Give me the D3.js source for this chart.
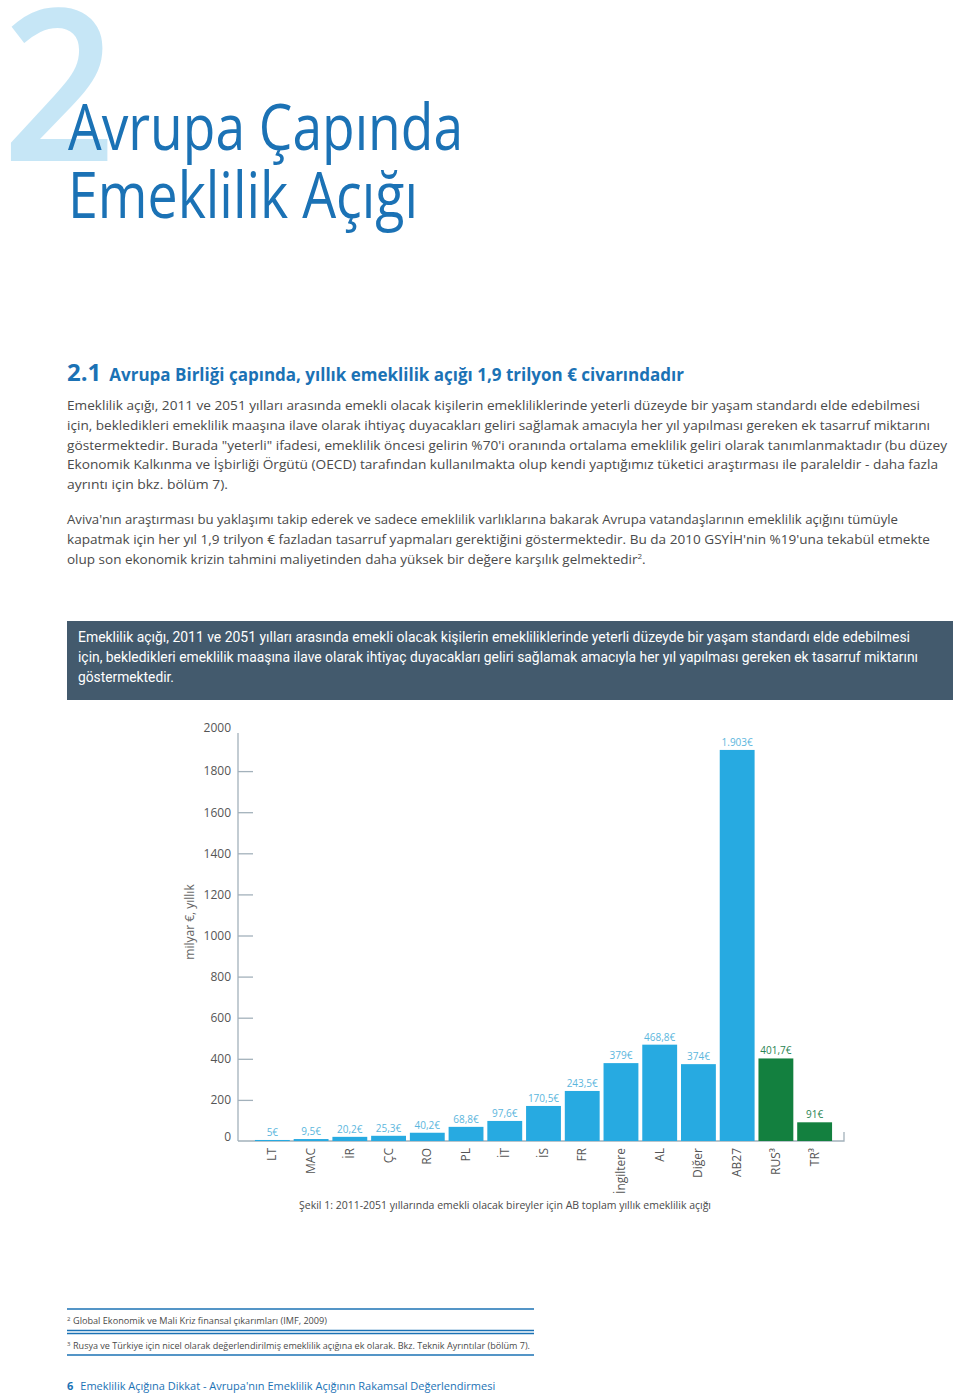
<!DOCTYPE html>
<html><head><meta charset="utf-8">
<script src="https://cdn.jsdelivr.net/npm/d3@7"></script>
<style>
html,body{margin:0;padding:0;background:#fff;}
svg{display:block;}
</style></head>
<body>
<svg id="page" width="960" height="1394"></svg>
<script>
// ---------- DATA ----------
const categories = ["LT","MAC","İR","ÇC","RO","PL","İT","İS","FR","İngiltere","AL","Diğer","AB27","RUS³","TR³"];
const values = [5, 9.5, 20.2, 25.3, 40.2, 68.8, 97.6, 170.5, 243.5, 379, 468.8, 374, 1903, 401.7, 91];
const valueLabels = ["5€","9,5€","20,2€","25,3€","40,2€","68,8€","97,6€","170,5€","243,5€","379€","468,8€","374€","1.903€","401,7€","91€"];
const groups = ["ab","ab","ab","ab","ab","ab","ab","ab","ab","ab","ab","ab","ab","other","other"];
const yTicks = [0,200,400,600,800,1000,1200,1400,1600,1800,2000];
const yAxisTitle = "milyar €, yıllık";
const caption = "Şekil 1: 2011-2051 yıllarında emekli olacak bireyler için AB toplam yıllık emeklilik açığı";

const para1 = [
 "Emeklilik açığı, 2011 ve 2051 yılları arasında emekli olacak kişilerin emekliliklerinde yeterli düzeyde bir yaşam standardı elde edebilmesi",
 "için, bekledikleri emeklilik maaşına ilave olarak ihtiyaç duyacakları geliri sağlamak amacıyla her yıl yapılması gereken ek tasarruf miktarını",
 "göstermektedir. Burada \"yeterli\" ifadesi, emeklilik öncesi gelirin %70'i oranında ortalama emeklilik geliri olarak tanımlanmaktadır (bu düzey",
 "Ekonomik Kalkınma ve İşbirliği Örgütü (OECD) tarafından kullanılmakta olup kendi yaptığımız tüketici araştırması ile paraleldir - daha fazla",
 "ayrıntı için bkz. bölüm 7)."
];
const para1W = [853, 863, 880, 871, 161];
const para2 = [
 "Aviva'nın araştırması bu yaklaşımı takip ederek ve sadece emeklilik varlıklarına bakarak Avrupa vatandaşlarının emeklilik açığını tümüyle",
 "kapatmak için her yıl 1,9 trilyon € fazladan tasarruf yapmaları gerektiğini göstermektedir. Bu da 2010 GSYİH'nin %19'una tekabül etmekte",
 "olup son ekonomik krizin tahmini maliyetinden daha yüksek bir değere karşılık gelmektedir"
];
const para2W = [831, 863, 561];
const boxLines = [
 "Emeklilik açığı, 2011 ve 2051 yılları arasında emekli olacak kişilerin emekliliklerinde yeterli düzeyde bir yaşam standardı elde edebilmesi",
 "için, bekledikleri emeklilik maaşına ilave olarak ihtiyaç duyacakları geliri sağlamak amacıyla her yıl yapılması gereken ek tasarruf miktarını",
 "göstermektedir."
];
const boxW = [832, 840, 96];

const svg = d3.select("#page");
const BLUE = "#1b72b5";
const TEXT = "#4a4a4a";

// ---------- HEADER ----------
svg.append("text").attr("x", 2).attr("y", 161)
  .attr("font-family","Open Sans, sans-serif").attr("font-weight",600).attr("font-size", 212).attr("fill","#c6e6f6")
  .attr("textLength",114).attr("lengthAdjust","spacingAndGlyphs")
  .text("2");
svg.append("text").attr("x", 68).attr("y", 150)
  .attr("font-family","Open Sans, sans-serif").attr("font-weight",400).attr("font-size", 64).attr("fill", BLUE)
  .attr("textLength",395).attr("lengthAdjust","spacingAndGlyphs")
  .text("Avrupa Çapında");
svg.append("text").attr("x", 68).attr("y", 218)
  .attr("font-family","Open Sans, sans-serif").attr("font-weight",400).attr("font-size", 64).attr("fill", BLUE)
  .attr("textLength",350).attr("lengthAdjust","spacingAndGlyphs")
  .text("Emeklilik Açığı");

// section heading
const h = svg.append("text").attr("x", 67).attr("y", 381)
  .attr("font-family","Open Sans, sans-serif").attr("font-weight",700).attr("fill", BLUE);
h.append("tspan").attr("font-size",24).text("2.1");
h.append("tspan").attr("font-size",17).attr("dx",8).text("Avrupa Birliği çapında, yıllık emeklilik açığı 1,9 trilyon € civarındadır");

function lines(arr, widths, x, y0, lh, opts) {
  arr.forEach((t, i) => {
    const el = svg.append("text").attr("x", x).attr("y", y0 + i * lh)
      .attr("font-family", opts.family).attr("font-size", opts.size).attr("fill", opts.fill)
      .attr("font-weight", opts.weight || 400)
      .attr("textLength", widths[i]).attr("lengthAdjust","spacingAndGlyphs")
      .text(t);
    if (opts.sup && i === arr.length - 1) {
      el.attr("textLength", null);
      el.append("tspan").attr("font-size", 8).attr("dy", -5).text("2");
      el.append("tspan").attr("dy", 5).text(".");
    }
  });
}
const bodyFont = {family:"Open Sans, sans-serif", size:13.5, fill:TEXT};
lines(para1, para1W, 67, 410, 19.8, bodyFont);
lines(para2, para2W, 67, 524, 20, Object.assign({sup:true}, bodyFont));

// blue box
svg.append("rect").attr("x",67).attr("y",621).attr("width",886).attr("height",79).attr("fill","#435a6d");
lines(boxLines, boxW, 78, 642, 20, {family:"Liberation Sans Narrow, Roboto, sans-serif", size:14.5, fill:"#ffffff"});

// ---------- CHART ----------
const axisX = 238, baseY = 1141;
const y = d3.scaleLinear().domain([0, 2000]).range([baseY, 730]);
const x = d3.scaleBand().domain(categories).range([253, 834]).paddingInner(0.1).paddingOuter(0.05);

const gA = svg.append("g").attr("transform", `translate(${axisX},0)`);
const axis = d3.axisLeft(y).tickValues(yTicks).tickSizeInner(-15).tickSizeOuter(0).tickPadding(7)
  .tickFormat(d3.format("d"));
gA.call(axis);
gA.select(".domain").remove();
gA.selectAll(".tick line").attr("stroke","#a3b1bb").attr("stroke-width",1.3)
  .attr("display", d => (d === 0 || d === 2000) ? "none" : null);
gA.selectAll(".tick text").attr("font-family","Open Sans, sans-serif").attr("font-size",12).attr("fill","#555")
  .attr("dy", d => d === 0 ? "-0.05em" : (d === 2000 ? "0.1em" : "0.32em"));
gA.append("line").attr("x1",0).attr("x2",0).attr("y1",733).attr("y2",baseY).attr("stroke","#a3b1bb").attr("stroke-width",1.3);

// baseline
svg.append("path").attr("d", `M${axisX},${baseY}H${x.range()[1]+10}V${baseY-9}`)
  .attr("fill","none").attr("stroke","#a3b1bb").attr("stroke-width",1.3);

// y title
svg.append("text").attr("transform","translate(194,922) rotate(-90)").attr("text-anchor","middle")
  .attr("font-family","Open Sans, sans-serif").attr("font-size",12).attr("fill","#666").text(yAxisTitle);

const data = categories.map((c, i) => ({c, v: values[i], l: valueLabels[i], g: groups[i]}));
const colorBar = {ab:"#27aae1", other:"#13803f"};
const colorLbl = {ab:"#5bb6dd", other:"#2a8452"};

svg.append("g").selectAll("rect").data(data).join("rect")
  .attr("x", d => x(d.c)).attr("width", x.bandwidth())
  .attr("y", d => y(d.v)).attr("height", d => Math.max(1, baseY - y(d.v)))
  .attr("fill", d => colorBar[d.g]);

svg.append("g").selectAll("text").data(data).join("text")
  .attr("x", d => x(d.c) + x.bandwidth()/2).attr("y", d => Math.min(y(d.v), baseY - 1) - 4)
  .attr("text-anchor","middle").attr("font-family","Open Sans, sans-serif").attr("font-size",10)
  .attr("fill", d => colorLbl[d.g]).text(d => d.l);

svg.append("g").selectAll("text").data(data).join("text")
  .attr("transform", d => `translate(${x(d.c) + x.bandwidth()/2 + 4},1148) rotate(-90)`)
  .attr("text-anchor","end").attr("font-family","Open Sans, sans-serif").attr("font-size",12).attr("fill","#555")
  .text(d => d.c);

svg.append("text").attr("x",505).attr("y",1209).attr("text-anchor","middle")
  .attr("font-family","Open Sans, sans-serif").attr("font-size",11).attr("fill",TEXT)
  .attr("textLength",412).attr("lengthAdjust","spacingAndGlyphs").text(caption);

// ---------- FOOTNOTES ----------
[1309, 1330.5, 1333.5, 1355].forEach(yy => {
  svg.append("line").attr("x1",67).attr("x2",534).attr("y1",yy).attr("y2",yy).attr("stroke",BLUE).attr("stroke-width",1.3);
});
function foot(yy, sup, t, w) {
  const el = svg.append("text").attr("x",67).attr("y",yy).attr("font-family","Open Sans, sans-serif").attr("font-size",9.5).attr("fill",TEXT);
  el.append("tspan").attr("font-size",6).attr("dy",-3).text(sup);
  el.append("tspan").attr("x",73).attr("dy",3).attr("textLength",w).attr("lengthAdjust","spacingAndGlyphs").text(t);
}
foot(1324, "2", "Global Ekonomik ve Mali Kriz finansal çıkarımları (IMF, 2009)", 254);
foot(1349, "3", "Rusya ve Türkiye için nicel olarak değerlendirilmiş emeklilik açığına ek olarak. Bkz. Teknik Ayrıntılar (bölüm 7).", 457);

const ft = svg.append("text").attr("x",67).attr("y",1390).attr("font-family","Open Sans, sans-serif").attr("font-size",11).attr("fill",BLUE);
ft.append("tspan").attr("font-weight",700).text("6");
ft.append("tspan").attr("dx",7).text("Emeklilik Açığına Dikkat - Avrupa'nın Emeklilik Açığının Rakamsal Değerlendirmesi");
</script>
</body></html>
